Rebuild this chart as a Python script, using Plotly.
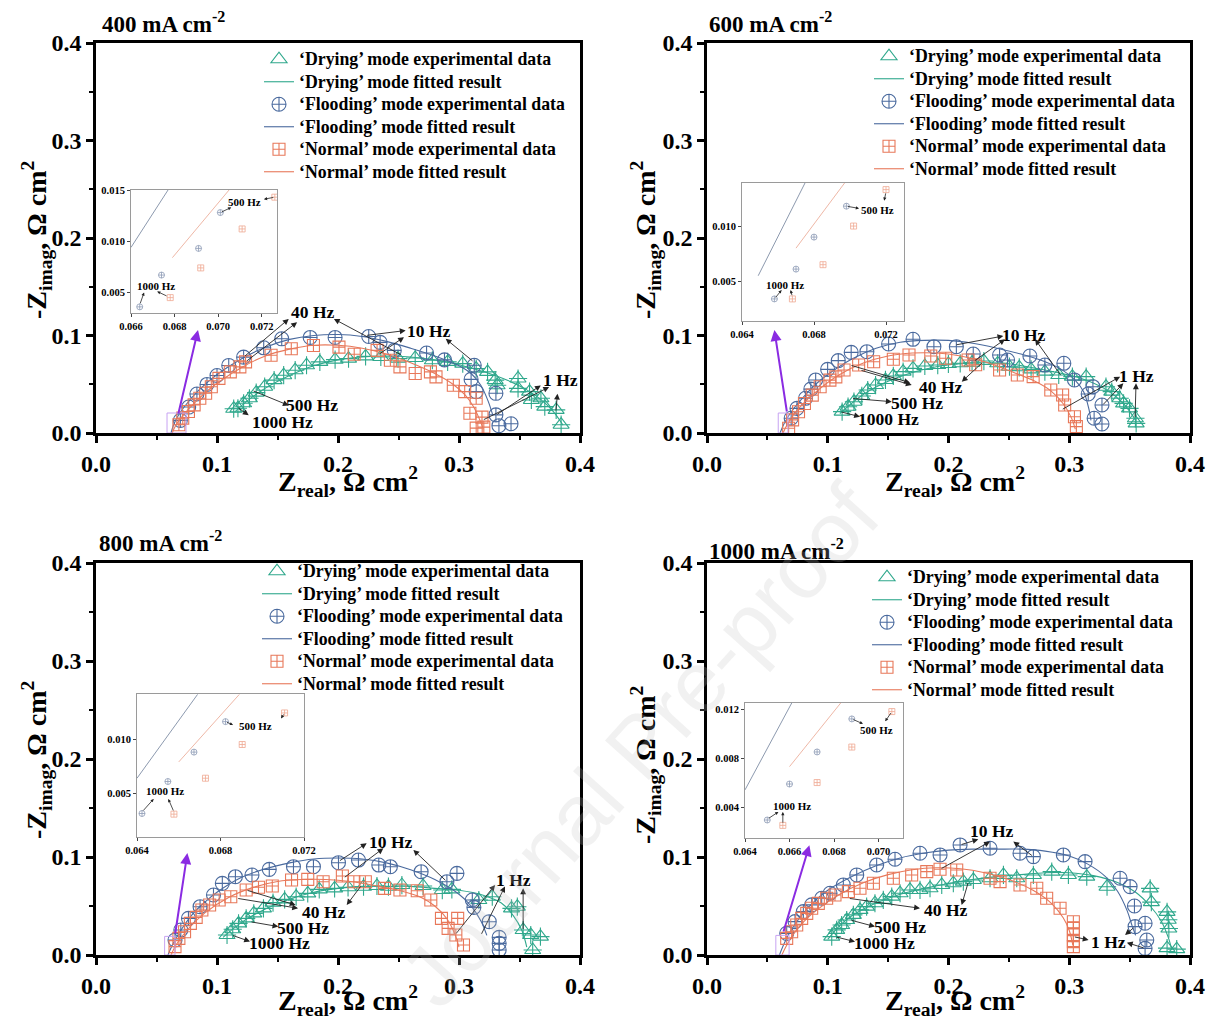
import plotly.graph_objects as go

# reference canvas is 1215x1030; the page adds an 8px body margin, so the figure is 16px smaller
REF_W, REF_H = 1215, 1030
OFF = 8
W, H = REF_W - 2 * OFF, REF_H - 2 * OFF
SERIF = "Liberation Serif"
C_DRY = "#2FA88C"
C_FLD = "#4A6A9E"
C_NOR = "#E8785A"
C_PUR = "#8A2BE2"

# ------------------------------------------------------------------ data
PANEL_TITLES = ["400 mA cm<sup>-2</sup>", "600 mA cm<sup>-2</sup>",
                "800 mA cm<sup>-2</sup>", "1000 mA cm<sup>-2</sup>"]
MAIN_TICKS = [0.0, 0.1, 0.2, 0.3, 0.4]
WATERMARK = "Journal Pre-proof"

NAMES = ["\u2018Drying\u2019 mode experimental data", "\u2018Drying\u2019 mode fitted result",
         "\u2018Flooding\u2019 mode experimental data", "\u2018Flooding\u2019 mode fitted result",
         "\u2018Normal\u2019 mode experimental data", "\u2018Normal\u2019 mode fitted result"]

# ---- 400 mA cm-2
P400_DRY = [(0.1138, 0.0249), (0.1173, 0.0254), (0.122, 0.0305), (0.1268, 0.0356), (0.1324, 0.0414),
            (0.1394, 0.0475), (0.1472, 0.0542), (0.1551, 0.0593), (0.1646, 0.0644), (0.174, 0.0695),
            (0.185, 0.0729), (0.1976, 0.0753), (0.2087, 0.0763), (0.2228, 0.0786), (0.2354, 0.078),
            (0.2496, 0.0763), (0.2638, 0.0769), (0.278, 0.0746), (0.2906, 0.0729), (0.3031, 0.0712),
            (0.3142, 0.0661), (0.3236, 0.0627), (0.3299, 0.0542), (0.3315, 0.049), (0.3488, 0.0559),
            (0.3488, 0.0458), (0.3583, 0.0424), (0.3598, 0.0339), (0.3677, 0.0356), (0.3709, 0.0271),
            (0.3803, 0.0237), (0.3844, 0.0085)]
P400_DRY_FIT = [(0.115, 0.022), (0.125, 0.033), (0.14, 0.046), (0.16, 0.059), (0.18, 0.069), (0.2, 0.075),
                (0.22, 0.078), (0.24, 0.079), (0.26, 0.078), (0.28, 0.075), (0.3, 0.07), (0.32, 0.063),
                (0.34, 0.054), (0.355, 0.045), (0.368, 0.034), (0.378, 0.022), (0.386, 0.008)]
P400_FLD = [(0.0697, 0.013), (0.0766, 0.0266), (0.0834, 0.040), (0.0917, 0.0498), (0.1, 0.059),
            (0.1097, 0.0693), (0.122, 0.0778), (0.1386, 0.0874), (0.1535, 0.0966), (0.177, 0.098),
            (0.1976, 0.098), (0.2254, 0.099), (0.2348, 0.093), (0.2465, 0.0847), (0.2732, 0.082),
            (0.288, 0.075), (0.3126, 0.0695), (0.310, 0.055), (0.3142, 0.0424), (0.3305, 0.0407),
            (0.3305, 0.0186), (0.333, 0.0075), (0.343, 0.0095)]
P400_FLD_FIT = [(0.062, 0.0), (0.064, 0.008), (0.068, 0.018), (0.075, 0.03), (0.085, 0.044), (0.1, 0.06),
                (0.12, 0.076), (0.14, 0.088), (0.16, 0.096), (0.18, 0.1), (0.2, 0.101), (0.22, 0.099),
                (0.24, 0.094), (0.26, 0.087), (0.28, 0.079), (0.3, 0.069), (0.31, 0.061), (0.318, 0.049),
                (0.324, 0.033), (0.328, 0.018)]
P400_NOR = [(0.0685, 0.0085), (0.0717, 0.0153), (0.0764, 0.022), (0.0811, 0.0288), (0.0858, 0.0356),
            (0.0906, 0.0407), (0.0953, 0.0475), (0.1016, 0.056), (0.111, 0.0627), (0.1189, 0.0678),
            (0.1236, 0.0729), (0.1447, 0.0797), (0.1614, 0.0864), (0.1797, 0.0898), (0.2008, 0.0881),
            (0.2134, 0.0807), (0.2323, 0.0847), (0.2433, 0.0746), (0.2512, 0.0678), (0.2638, 0.061),
            (0.2764, 0.0627), (0.281, 0.0576), (0.2953, 0.049), (0.3047, 0.0424), (0.3142, 0.0356),
            (0.309, 0.0203), (0.319, 0.0163), (0.3142, 0.005), (0.3205, 0.006)]
P400_NOR_FIT = [(0.063, 0.0), (0.066, 0.008), (0.072, 0.018), (0.08, 0.029), (0.09, 0.041), (0.1, 0.051),
                (0.12, 0.067), (0.14, 0.079), (0.16, 0.086), (0.18, 0.09), (0.2, 0.09), (0.22, 0.087),
                (0.24, 0.081), (0.26, 0.072), (0.28, 0.061), (0.295, 0.05), (0.305, 0.039), (0.312, 0.027),
                (0.317, 0.014), (0.32, 0.004)]
P400_IN_FLD = [(0.0664, 0.0036), (0.0674, 0.0067), (0.0691, 0.0093), (0.0701, 0.0128)]
P400_IN_NOR = [(0.0678, 0.0045), (0.0692, 0.0074), (0.0711, 0.0112), (0.0726, 0.0143)]
P400_IN_FLD_FIT = [(0.066, 0.0094), (0.0677, 0.0150)]
P400_IN_NOR_FIT = [(0.0679, 0.0084), (0.0705, 0.0150)]

# ---- 600 mA cm-2
P600_DRY = [(0.1119, 0.0219), (0.1168, 0.027), (0.1217, 0.0321), (0.1282, 0.038), (0.1331, 0.0441),
            (0.1396, 0.0492), (0.1478, 0.0544), (0.1543, 0.0585), (0.1624, 0.0629), (0.1706, 0.0663),
            (0.1804, 0.0687), (0.1911, 0.0697), (0.1999, 0.0708), (0.2097, 0.0715), (0.2195, 0.0721),
            (0.2293, 0.0738), (0.2407, 0.0715), (0.2505, 0.068), (0.2586, 0.0674), (0.2684, 0.0653),
            (0.2798, 0.0629), (0.2913, 0.0595), (0.3026, 0.0578), (0.314, 0.0578), (0.3304, 0.0475),
            (0.3352, 0.0424), (0.3418, 0.0356), (0.345, 0.0304), (0.3499, 0.0253), (0.3548, 0.0151),
            (0.3554, 0.0099)]
P600_DRY_FIT = [(0.11, 0.02), (0.13, 0.04), (0.15, 0.053), (0.17, 0.062), (0.19, 0.068), (0.21, 0.071),
                (0.23, 0.072), (0.25, 0.071), (0.27, 0.067), (0.29, 0.062), (0.31, 0.056), (0.33, 0.045),
                (0.345, 0.03), (0.355, 0.013)]
P600_FLD = [(0.0697, 0.0151), (0.0745, 0.0253), (0.0816, 0.0356), (0.086, 0.045), (0.09, 0.0544),
            (0.0999, 0.0653), (0.1087, 0.0742), (0.1194, 0.0827), (0.1324, 0.0834), (0.1504, 0.0913),
            (0.1706, 0.0961), (0.1879, 0.0885), (0.2065, 0.0885), (0.2205, 0.081), (0.2423, 0.080),
            (0.2489, 0.0749), (0.2674, 0.079), (0.2798, 0.0697), (0.2955, 0.0715), (0.3043, 0.0544),
            (0.3196, 0.0475), (0.3157, 0.040), (0.3271, 0.0287), (0.3206, 0.0151), (0.3271, 0.0092)]
P600_FLD_FIT = [(0.0605, 0.0), (0.064, 0.01), (0.07, 0.022), (0.08, 0.037), (0.09, 0.05), (0.1, 0.06),
                (0.12, 0.076), (0.14, 0.087), (0.16, 0.093), (0.18, 0.095), (0.2, 0.095), (0.22, 0.092),
                (0.24, 0.087), (0.26, 0.081), (0.28, 0.073), (0.295, 0.064), (0.305, 0.054), (0.312, 0.042),
                (0.316, 0.026), (0.318, 0.013)]
P600_NOR = [(0.0676, 0.0049), (0.0709, 0.0135), (0.0758, 0.0218), (0.0807, 0.0303), (0.0872, 0.0388),
            (0.0937, 0.0474), (0.1018, 0.0542), (0.1067, 0.0576), (0.1135, 0.0646), (0.1256, 0.0697),
            (0.138, 0.0731), (0.1543, 0.0756), (0.1673, 0.080), (0.1853, 0.079), (0.1977, 0.0766),
            (0.2162, 0.0749), (0.2225, 0.0700), (0.2423, 0.0646), (0.257, 0.0595), (0.2701, 0.0578),
            (0.2847, 0.0441), (0.2945, 0.039), (0.2962, 0.0287), (0.3043, 0.0167), (0.3059, 0.0065)]
P600_NOR_FIT = [(0.063, 0.0), (0.067, 0.01), (0.075, 0.024), (0.09, 0.042), (0.11, 0.06), (0.13, 0.072),
                (0.15, 0.079), (0.17, 0.082), (0.19, 0.082), (0.21, 0.079), (0.23, 0.073), (0.25, 0.064),
                (0.27, 0.054), (0.285, 0.043), (0.295, 0.03), (0.302, 0.015), (0.305, 0.004)]
P600_IN_FLD = [(0.0658, 0.0034), (0.0670, 0.0061), (0.0680, 0.0090), (0.0698, 0.0118)]
P600_IN_NOR = [(0.0668, 0.0034), (0.0685, 0.0065), (0.0702, 0.0100), (0.0720, 0.0133)]
P600_IN_FLD_FIT = [(0.0649, 0.0055), (0.0675, 0.0139)]
P600_IN_NOR_FIT = [(0.0670, 0.0080), (0.0697, 0.0139)]

# ---- 800 mA cm-2
P800_DRY = [(0.1083, 0.0204), (0.113, 0.0262), (0.1178, 0.0323), (0.1241, 0.0374), (0.1304, 0.0425),
            (0.1384, 0.0476), (0.1463, 0.0534), (0.1559, 0.0568), (0.1654, 0.0595), (0.175, 0.0629),
            (0.1845, 0.067), (0.1972, 0.068), (0.2083, 0.0691), (0.2211, 0.0697), (0.2322, 0.0704),
            (0.2417, 0.0697), (0.2528, 0.0714), (0.2703, 0.0704), (0.2862, 0.0663), (0.2941, 0.067),
            (0.3164, 0.0561), (0.3275, 0.0595), (0.3434, 0.0476), (0.3482, 0.0493), (0.353, 0.0255),
            (0.3593, 0.0204), (0.3673, 0.0187), (0.3609, 0.0051)]
P800_DRY_FIT = [(0.105, 0.018), (0.12, 0.033), (0.14, 0.047), (0.16, 0.057), (0.18, 0.064), (0.2, 0.068),
                (0.22, 0.07), (0.24, 0.07), (0.26, 0.07), (0.28, 0.068), (0.3, 0.066), (0.32, 0.061),
                (0.335, 0.053), (0.345, 0.04), (0.352, 0.025), (0.356, 0.008)]
P800_FLD = [(0.0653, 0.0153), (0.0701, 0.0255), (0.0764, 0.0374), (0.086, 0.0493), (0.0971, 0.0612),
            (0.1044, 0.0731), (0.1152, 0.0799), (0.1289, 0.0816), (0.1432, 0.0874), (0.1632, 0.0901),
            (0.1797, 0.0901), (0.2004, 0.0942), (0.2169, 0.0969), (0.2337, 0.0918), (0.2433, 0.0901),
            (0.2687, 0.085), (0.29, 0.0748), (0.2983, 0.0833), (0.311, 0.0561), (0.3123, 0.0486),
            (0.325, 0.034), (0.3332, 0.018), (0.3332, 0.0119), (0.3332, 0.0051)]
P800_FLD_FIT = [(0.0595, 0.0), (0.063, 0.01), (0.07, 0.025), (0.08, 0.042), (0.09, 0.054), (0.1, 0.064),
                (0.12, 0.079), (0.14, 0.088), (0.16, 0.094), (0.18, 0.098), (0.2, 0.099), (0.22, 0.098),
                (0.24, 0.094), (0.26, 0.087), (0.28, 0.077), (0.3, 0.062), (0.31, 0.05), (0.318, 0.035),
                (0.323, 0.02)]
P800_NOR = [(0.0653, 0.0085), (0.0685, 0.017), (0.0732, 0.0238), (0.078, 0.0323), (0.0828, 0.0384),
            (0.0875, 0.0459), (0.0939, 0.051), (0.1018, 0.0561), (0.1114, 0.0595), (0.1241, 0.0663),
            (0.1343, 0.0691), (0.1457, 0.0704), (0.1616, 0.0765), (0.175, 0.0772), (0.1877, 0.0748),
            (0.2036, 0.0806), (0.2131, 0.0748), (0.2226, 0.0748), (0.2385, 0.068), (0.2512, 0.0663),
            (0.2655, 0.0656), (0.2767, 0.0561), (0.2855, 0.0374), (0.291, 0.0272), (0.2989, 0.0374),
            (0.2974, 0.0204), (0.3037, 0.0102)]
P800_NOR_FIT = [(0.062, 0.0), (0.066, 0.01), (0.075, 0.025), (0.09, 0.043), (0.11, 0.059), (0.13, 0.069),
                (0.15, 0.075), (0.17, 0.077), (0.19, 0.077), (0.21, 0.075), (0.23, 0.071), (0.25, 0.066),
                (0.27, 0.058), (0.28, 0.05), (0.29, 0.037), (0.297, 0.02), (0.3, 0.008)]
P800_IN_FLD = [(0.06424, 0.00316), (0.06548, 0.0061), (0.06673, 0.0088), (0.06824, 0.0116)]
P800_IN_NOR = [(0.06577, 0.0031), (0.06728, 0.0064), (0.06904, 0.0095), (0.07107, 0.0124)]
P800_IN_FLD_FIT = [(0.0640, 0.0064), (0.0669, 0.0141)]
P800_IN_NOR_FIT = [(0.0660, 0.0079), (0.0689, 0.0141)]

# ---- 1000 mA cm-2
P1000_DRY = [(0.1033, 0.0188), (0.1074, 0.0256), (0.1115, 0.0306), (0.1157, 0.0357), (0.1212, 0.0409),
             (0.1267, 0.046), (0.1322, 0.0494), (0.1391, 0.0528), (0.146, 0.0562), (0.153, 0.0596),
             (0.1599, 0.063), (0.1681, 0.0664), (0.1764, 0.0664), (0.1847, 0.0681), (0.1944, 0.0715),
             (0.204, 0.0732), (0.2123, 0.0749), (0.2206, 0.0766), (0.2344, 0.0783), (0.2455, 0.0817),
             (0.2565, 0.0783), (0.2703, 0.0817), (0.2855, 0.0851), (0.2993, 0.0817), (0.3145, 0.0800),
             (0.3313, 0.0697), (0.367, 0.068), (0.368, 0.054), (0.381, 0.044), (0.382, 0.036),
             (0.3825, 0.027), (0.381, 0.007), (0.389, 0.006)]
P1000_DRY_FIT = [(0.1, 0.016), (0.11, 0.03), (0.12, 0.04), (0.14, 0.053), (0.16, 0.062), (0.18, 0.068),
                 (0.2, 0.073), (0.22, 0.077), (0.24, 0.08), (0.26, 0.082), (0.28, 0.084), (0.3, 0.084),
                 (0.32, 0.081), (0.34, 0.074), (0.355, 0.064), (0.367, 0.05), (0.376, 0.035),
                 (0.382, 0.018), (0.385, 0.005)]
P1000_FLD = [(0.066, 0.0221), (0.0729, 0.0341), (0.0798, 0.0443), (0.0867, 0.0511), (0.095, 0.0579),
             (0.1019, 0.063), (0.1129, 0.0715), (0.124, 0.0817), (0.1405, 0.0919), (0.1557, 0.0977),
             (0.1764, 0.1038), (0.193, 0.1021), (0.2096, 0.1123), (0.2344, 0.1089), (0.2592, 0.1038),
             (0.2703, 0.1004), (0.2951, 0.1021), (0.3131, 0.0953), (0.3421, 0.0783), (0.3504, 0.0698),
             (0.354, 0.050), (0.3545, 0.029), (0.3628, 0.0324), (0.3642, 0.0153), (0.3628, 0.0068)]
P1000_FLD_FIT = [(0.06, 0.0), (0.064, 0.012), (0.07, 0.026), (0.08, 0.043), (0.09, 0.056), (0.1, 0.066),
                 (0.12, 0.08), (0.14, 0.091), (0.16, 0.099), (0.18, 0.104), (0.2, 0.107), (0.22, 0.108),
                 (0.24, 0.108), (0.26, 0.108), (0.28, 0.106), (0.3, 0.101), (0.315, 0.093), (0.33, 0.08),
                 (0.34, 0.065), (0.348, 0.045), (0.352, 0.03), (0.355, 0.02)]
P1000_NOR = [(0.066, 0.017), (0.0701, 0.0238), (0.0743, 0.0306), (0.0784, 0.0374), (0.0826, 0.0425),
             (0.0867, 0.0477), (0.0922, 0.0527), (0.0991, 0.0579), (0.106, 0.0613), (0.1171, 0.0647),
             (0.1267, 0.0681), (0.1378, 0.0732), (0.1543, 0.0783), (0.1695, 0.0817), (0.182, 0.0851),
             (0.193, 0.0875), (0.2068, 0.0868), (0.2344, 0.0783), (0.2427, 0.0749), (0.2592, 0.0715),
             (0.2731, 0.0681), (0.2813, 0.0579), (0.2924, 0.0477), (0.3034, 0.034), (0.3034, 0.0272),
             (0.3034, 0.0204), (0.3034, 0.0136), (0.3034, 0.0085)]
P1000_NOR_FIT = [(0.062, 0.0), (0.066, 0.01), (0.075, 0.027), (0.09, 0.045), (0.11, 0.062), (0.13, 0.074),
                 (0.15, 0.082), (0.17, 0.087), (0.19, 0.089), (0.21, 0.088), (0.23, 0.084), (0.25, 0.077),
                 (0.27, 0.066), (0.285, 0.053), (0.295, 0.038), (0.3, 0.025), (0.303, 0.01)]
P1000_IN_FLD = [(0.0650, 0.00294), (0.0660, 0.00588), (0.06724, 0.0085), (0.0688, 0.0112)]
P1000_IN_NOR = [(0.0657, 0.0025), (0.06724, 0.0060), (0.0688, 0.0089), (0.0706, 0.0118)]
P1000_IN_FLD_FIT = [(0.0640, 0.0054), (0.0661, 0.0125)]
P1000_IN_NOR_FIT = [(0.0660, 0.0073), (0.0683, 0.0125)]

INSET_XTICKS = [[0.066, 0.068, 0.070, 0.072], [0.064, 0.068, 0.072],
                [0.064, 0.068, 0.072], [0.064, 0.066, 0.068, 0.070]]
INSET_YTICKS = [[0.005, 0.010, 0.015], [0.005, 0.010],
                [0.005, 0.010], [0.004, 0.008, 0.012]]

# ------------------------------------------------------------------ layout geometry (reference pixels)
PANELS = [
    dict(box=(96, 580, 43, 433), inset=(131, 277, 190, 313), irx=(0.066, 0.0727), iry=(0.003, 0.015),
         title=(100, 23), ytitle=(36, 240), xtitle=(348, 482), legend=(259, 43),
         zoombox=(0.0587, 0.0744, 0.0205), zarrow=(0.0678, 0.0185, 0.0843, 0.1056)),
    dict(box=(707, 1190, 43, 433), inset=(742, 904, 183, 321), irx=(0.064, 0.073), iry=(0.0014, 0.0139),
         title=(707, 23), ytitle=(645, 240), xtitle=(955, 482), legend=(869, 40),
         zoombox=(0.059, 0.067, 0.0205), zarrow=(0.0663, 0.0205, 0.0558, 0.1056)),
    dict(box=(96, 580, 563, 955), inset=(137, 304, 694, 837), irx=(0.064, 0.072), iry=(0.001, 0.01414),
         title=(97, 541), ytitle=(36, 760), xtitle=(348, 1000), legend=(257, 555),
         zoombox=(0.0567, 0.0653, 0.019), zarrow=(0.0653, 0.0204, 0.0755, 0.104)),
    dict(box=(707, 1190, 563, 955), inset=(745, 903, 703, 838), irx=(0.064, 0.0711), iry=(0.00147, 0.0125),
         title=(707, 549), ytitle=(645, 765), xtitle=(955, 1000), legend=(867, 561),
         zoombox=(0.057, 0.068, 0.02), zarrow=(0.063, 0.0224, 0.0848, 0.112)),
]

SERIES = [
    (P400_DRY, P400_DRY_FIT, P400_FLD, P400_FLD_FIT, P400_NOR, P400_NOR_FIT,
     P400_IN_FLD, P400_IN_NOR, P400_IN_FLD_FIT, P400_IN_NOR_FIT),
    (P600_DRY, P600_DRY_FIT, P600_FLD, P600_FLD_FIT, P600_NOR, P600_NOR_FIT,
     P600_IN_FLD, P600_IN_NOR, P600_IN_FLD_FIT, P600_IN_NOR_FIT),
    (P800_DRY, P800_DRY_FIT, P800_FLD, P800_FLD_FIT, P800_NOR, P800_NOR_FIT,
     P800_IN_FLD, P800_IN_NOR, P800_IN_FLD_FIT, P800_IN_NOR_FIT),
    (P1000_DRY, P1000_DRY_FIT, P1000_FLD, P1000_FLD_FIT, P1000_NOR, P1000_NOR_FIT,
     P1000_IN_FLD, P1000_IN_NOR, P1000_IN_FLD_FIT, P1000_IN_NOR_FIT),
]

# frequency labels (text, x, y) and arrows (tail x, tail y, head x, head y), in data units
LABELS = [
    [("40 Hz", 0.1786, 0.1239), ("10 Hz", 0.2752, 0.1051), ("1 Hz", 0.3841, 0.0539),
     ("500 Hz", 0.1786, 0.0283), ("1000 Hz", 0.1538, 0.0113)],
    [("10 Hz", 0.262, 0.1005), ("40 Hz", 0.193, 0.0468), ("1 Hz", 0.356, 0.0585),
     ("500 Hz", 0.1737, 0.0304), ("1000 Hz", 0.1502, 0.0144)],
    [("10 Hz", 0.243, 0.1157), ("40 Hz", 0.188, 0.0443), ("1 Hz", 0.345, 0.0766),
     ("500 Hz", 0.1714, 0.0273), ("1000 Hz", 0.152, 0.012)],
    [("10 Hz", 0.2358, 0.1269), ("40 Hz", 0.1971, 0.046), ("1 Hz", 0.3324, 0.0137),
     ("500 Hz", 0.1598, 0.029), ("1000 Hz", 0.1474, 0.012)],
]
ARROWS = [
    [(0.122, 0.0778, 0.1593, 0.117), (0.1236, 0.0729, 0.1662, 0.1137), (0.2531, 0.0795, 0.1966, 0.117),
     (0.2228, 0.1, 0.2559, 0.1051), (0.2324, 0.0795, 0.2545, 0.0983), (0.3124, 0.0727, 0.289, 0.0966),
     (0.3303, 0.0181, 0.3676, 0.0488), (0.3193, 0.013, 0.3745, 0.0471), (0.38, 0.0215, 0.3814, 0.0403),
     (0.129, 0.0437, 0.1593, 0.0283), (0.1166, 0.0266, 0.1262, 0.0181)],
    [(0.2054, 0.0902, 0.2454, 0.0995), (0.2206, 0.0732, 0.2468, 0.0961), (0.2938, 0.0578, 0.2717, 0.0961),
     (0.1267, 0.0646, 0.1695, 0.0492), (0.1184, 0.0697, 0.1681, 0.0516), (0.2289, 0.0732, 0.211, 0.0526),
     (0.2934, 0.0236, 0.3421, 0.0578), (0.3269, 0.0277, 0.3448, 0.0509), (0.3545, 0.015, 0.3553, 0.0509),
     (0.1198, 0.0355, 0.153, 0.0321), (0.1102, 0.0219, 0.1267, 0.0167)],
    [(0.2003, 0.0953, 0.2237, 0.114), (0.2044, 0.0783, 0.2375, 0.1089), (0.29, 0.0748, 0.2623, 0.1072),
     (0.1163, 0.0579, 0.167, 0.0477), (0.1241, 0.0663, 0.165, 0.051), (0.2196, 0.0715, 0.2072, 0.051),
     (0.2967, 0.0205, 0.3298, 0.0715), (0.318, 0.02, 0.338, 0.07), (0.353, 0.025, 0.353, 0.068),
     (0.1273, 0.034, 0.1507, 0.029), (0.112, 0.0204, 0.1273, 0.0137)],
    [(0.2096, 0.1123, 0.2247, 0.118), (0.193, 0.0875, 0.2344, 0.1157), (0.2703, 0.1004, 0.2537, 0.1157),
     (0.117, 0.0579, 0.1764, 0.0477), (0.2165, 0.0749, 0.2109, 0.051),
     (0.3034, 0.0187, 0.316, 0.0154), (0.3628, 0.0068, 0.3477, 0.0126), (0.3545, 0.029, 0.3462, 0.0204),
     (0.1184, 0.0358, 0.1391, 0.029), (0.106, 0.0187, 0.1226, 0.0136)],
]
IN_LABELS = [
    [("1000 Hz", 0.06715, 0.0056), ("500 Hz", 0.0712, 0.0138)],
    [("1000 Hz", 0.0664, 0.0047), ("500 Hz", 0.0715, 0.0115)],
    [("1000 Hz", 0.06535, 0.0052), ("500 Hz", 0.0697, 0.0112)],
    [("1000 Hz", 0.0661, 0.0041), ("500 Hz", 0.0699, 0.0103)],
]
IN_ARROWS = [
    [(0.0664, 0.0038, 0.0666, 0.0050), (0.0677, 0.0046, 0.0672, 0.0051),
     (0.0701, 0.0128, 0.0706, 0.0133), (0.0726, 0.0143, 0.0721, 0.0141)],
    [(0.0658, 0.0034, 0.0662, 0.0042), (0.0668, 0.0036, 0.0667, 0.0042),
     (0.0698, 0.0118, 0.0705, 0.0116), (0.0720, 0.0131, 0.0719, 0.0123)],
    [(0.06424, 0.0033, 0.0648, 0.0045), (0.06577, 0.0033, 0.0655, 0.0045),
     (0.06824, 0.0116, 0.0686, 0.0113), (0.07107, 0.0124, 0.0709, 0.0119)],
    [(0.0650, 0.0030, 0.0655, 0.0036), (0.0657, 0.0026, 0.0657, 0.0036),
     (0.0688, 0.0112, 0.0693, 0.0108), (0.0706, 0.0118, 0.0703, 0.0110)],
]


# ------------------------------------------------------------------ helpers
def xs(pts):
    return [p[0] for p in pts]


def ys(pts):
    return [p[1] for p in pts]


def fx(px):
    return (px - OFF) / W


def fy(py):
    return 1 - (py - OFF) / H


def big(name):
    return '<span style="font-size:17.8px">' + name + "</span>"


BOLD = dict(family=SERIF, color="black", weight="bold")

fig = go.Figure()
layout = dict(width=W, height=H, margin=dict(l=0, r=0, t=0, b=0, autoexpand=False),
              paper_bgcolor="white", plot_bgcolor="white", showlegend=True)
annotations = []
shapes = []

for i, (P, S) in enumerate(zip(PANELS, SERIES)):
    k = i + 1
    kin = i + 5
    xa, ya = ("x" if k == 1 else f"x{k}"), ("y" if k == 1 else f"y{k}")
    xin, yin = f"x{kin}", f"y{kin}"
    leg = "legend" if k == 1 else f"legend{k}"
    dry, dry_fit, fld, fld_fit, nor, nor_fit, in_fld, in_nor, in_fld_fit, in_nor_fit = S

    # main axes
    x0, x1, y0, y1 = P["box"]
    axis_common = dict(range=[0, 0.4], tickvals=MAIN_TICKS, tickformat=".1f",
                       ticks="outside", ticklen=7, tickwidth=2.5, tickcolor="black",
                       showline=True, linewidth=2.5, linecolor="black", mirror=True,
                       showgrid=False, zeroline=False, automargin=False,
                       tickfont=dict(size=24, **BOLD),
                       minor=dict(ticks="outside", ticklen=4, tickwidth=2, tickcolor="black",
                                  dtick=0.05, tick0=0, showgrid=False))
    layout[("xaxis" if k == 1 else f"xaxis{k}")] = dict(domain=[fx(x0), fx(x1)], anchor=ya, **axis_common)
    layout[("yaxis" if k == 1 else f"yaxis{k}")] = dict(domain=[fy(y1), fy(y0)], anchor=xa, **axis_common)

    # inset axes
    ix0, ix1, iy0, iy1 = P["inset"]
    in_common = dict(ticks="outside", ticklen=3, tickwidth=1, tickcolor="#444",
                     showline=True, linewidth=1, linecolor="#9a9a9a", mirror=True,
                     showgrid=False, zeroline=False, tickformat=".3f", automargin=False,
                     tickfont=dict(size=10.5, **BOLD))
    layout[f"xaxis{kin}"] = dict(domain=[fx(ix0), fx(ix1)], anchor=yin, range=list(P["irx"]),
                                 tickvals=INSET_XTICKS[i], **in_common)
    layout[f"yaxis{kin}"] = dict(domain=[fy(iy1), fy(iy0)], anchor=xin, range=list(P["iry"]),
                                 tickvals=INSET_YTICKS[i], **in_common)

    fig.add_trace(go.Scatter(x=xs(dry), y=ys(dry), mode="markers", name=big(NAMES[0]), legend=leg,
                             legendrank=1, xaxis=xa, yaxis=ya,
                             marker=dict(symbol="triangle-up-open", size=14, color=C_DRY,
                                         line=dict(width=1.1, color=C_DRY))))
    fig.add_trace(go.Scatter(x=xs(dry), y=ys(dry), mode="markers", showlegend=False,
                             xaxis=xa, yaxis=ya,
                             marker=dict(symbol="cross-thin-open", size=13, color=C_DRY,
                                         line=dict(width=1.1, color=C_DRY))))
    fig.add_trace(go.Scatter(x=xs(dry_fit), y=ys(dry_fit), mode="lines", name=big(NAMES[1]), legend=leg,
                             legendrank=2, xaxis=xa, yaxis=ya, line=dict(color=C_DRY, width=1.1,
                                                                         shape="spline")))
    fig.add_trace(go.Scatter(x=xs(fld), y=ys(fld), mode="markers", name=big(NAMES[2]), legend=leg,
                             legendrank=3, xaxis=xa, yaxis=ya,
                             marker=dict(symbol="circle-cross-open", size=14, color=C_FLD,
                                         line=dict(width=1.1, color=C_FLD))))
    fig.add_trace(go.Scatter(x=xs(fld_fit), y=ys(fld_fit), mode="lines", name=big(NAMES[3]), legend=leg,
                             legendrank=4, xaxis=xa, yaxis=ya, line=dict(color=C_FLD, width=1.1,
                                                                         shape="spline")))
    fig.add_trace(go.Scatter(x=xs(nor), y=ys(nor), mode="markers", name=big(NAMES[4]), legend=leg,
                             legendrank=5, xaxis=xa, yaxis=ya,
                             marker=dict(symbol="square-cross-open", size=12, color=C_NOR,
                                         line=dict(width=1.1, color=C_NOR))))
    fig.add_trace(go.Scatter(x=xs(nor_fit), y=ys(nor_fit), mode="lines", name=big(NAMES[5]), legend=leg,
                             legendrank=6, xaxis=xa, yaxis=ya, line=dict(color=C_NOR, width=1.1,
                                                                         shape="spline")))

    # inset traces
    fig.add_trace(go.Scatter(x=xs(in_fld_fit), y=ys(in_fld_fit), mode="lines", showlegend=False,
                             xaxis=xin, yaxis=yin, line=dict(color="#6f7f99", width=0.8)))
    fig.add_trace(go.Scatter(x=xs(in_nor_fit), y=ys(in_nor_fit), mode="lines", showlegend=False,
                             xaxis=xin, yaxis=yin, line=dict(color="#eaa48f", width=0.8)))
    fig.add_trace(go.Scatter(x=xs(in_fld), y=ys(in_fld), mode="markers", showlegend=False,
                             xaxis=xin, yaxis=yin,
                             marker=dict(symbol="circle-cross-open", size=6, color="#8d9bb5",
                                         line=dict(width=0.8, color="#8d9bb5"))))
    fig.add_trace(go.Scatter(x=xs(in_nor), y=ys(in_nor), mode="markers", showlegend=False,
                             xaxis=xin, yaxis=yin,
                             marker=dict(symbol="square-cross-open", size=6, color="#efa892",
                                         line=dict(width=0.8, color="#efa892"))))

    # legend
    lx, ly = P["legend"]
    layout[leg] = dict(x=fx(lx), y=fy(ly), xanchor="left", yanchor="top", xref="paper", yref="paper",
                       bgcolor="rgba(0,0,0,0)", borderwidth=0, traceorder="normal",
                       tracegroupgap=0, itemwidth=30, font=dict(size=15, **BOLD))

    # titles
    tx, ty = P["title"]
    annotations.append(dict(text="<b>" + PANEL_TITLES[i] + "</b>", x=fx(tx), y=fy(ty), xref="paper",
                            yref="paper", xanchor="left", yanchor="middle", showarrow=False,
                            font=dict(family=SERIF, size=23, color="black")))
    cx, cy = P["xtitle"]
    annotations.append(dict(text="<b>Z<sub>real</sub>, \u03a9 cm<sup>2</sup></b>", x=fx(cx), y=fy(cy),
                            xref="paper", yref="paper", xanchor="center", yanchor="middle",
                            showarrow=False, font=dict(family=SERIF, size=28, color="black")))
    cx, cy = P["ytitle"]
    annotations.append(dict(text="<b>-Z<sub>imag</sub>, \u03a9 cm<sup>2</sup></b>", x=fx(cx), y=fy(cy),
                            xref="paper", yref="paper", xanchor="center", yanchor="middle",
                            textangle=-90, showarrow=False,
                            font=dict(family=SERIF, size=28, color="black")))

    # frequency labels and arrows
    for (t, lxv, lyv) in LABELS[i]:
        annotations.append(dict(text="<b>" + t + "</b>", x=lxv, y=lyv, xref=xa, yref=ya,
                                showarrow=False, font=dict(family=SERIF, size=17.5, color="black")))
    for (ax_, ay_, hx, hy) in ARROWS[i]:
        annotations.append(dict(text="", x=hx, y=hy, ax=ax_, ay=ay_, xref=xa, yref=ya, axref=xa,
                                ayref=ya, showarrow=True, arrowhead=2, arrowsize=1.3, arrowwidth=0.9,
                                arrowcolor="#222"))
    for (t, lxv, lyv) in IN_LABELS[i]:
        annotations.append(dict(text="<b>" + t + "</b>", x=lxv, y=lyv, xref=xin, yref=yin,
                                showarrow=False, font=dict(family=SERIF, size=11, color="black")))
    for (ax_, ay_, hx, hy) in IN_ARROWS[i]:
        annotations.append(dict(text="", x=hx, y=hy, ax=ax_, ay=ay_, xref=xin, yref=yin, axref=xin,
                                ayref=yin, showarrow=True, arrowhead=2, arrowsize=0.8, arrowwidth=0.8,
                                arrowcolor="#222"))

    # zoom box and purple arrow
    zx0, zx1, zy1 = P["zoombox"]
    shapes.append(dict(type="rect", xref=xa, yref=ya, x0=zx0, x1=zx1, y0=0, y1=zy1,
                       line=dict(color="#c7a3f2", width=1)))
    tx0, ty0, hx, hy = P["zarrow"]
    annotations.append(dict(text="", x=hx, y=hy, ax=tx0, ay=ty0, xref=xa, yref=ya, axref=xa, ayref=ya,
                            showarrow=True, arrowhead=2, arrowsize=1.1, arrowwidth=2,
                            arrowcolor=C_PUR))

# faint diagonal watermark across the lower half
annotations.append(dict(text=WATERMARK, x=fx(640), y=fy(745), xref="paper", yref="paper",
                        xanchor="center", yanchor="middle", textangle=-48, showarrow=False,
                        font=dict(family="Liberation Sans", size=86, color="rgba(190,190,190,0.22)")))

layout["annotations"] = annotations
layout["shapes"] = shapes
fig.update_layout(**layout)
fig.write_html("out.html")
